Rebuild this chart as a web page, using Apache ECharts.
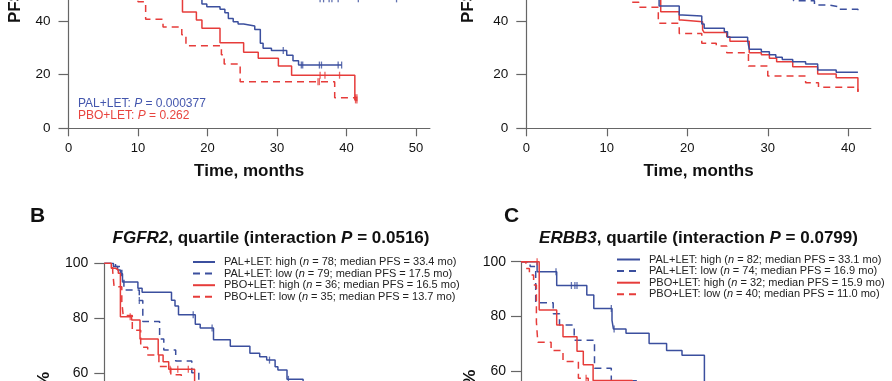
<!DOCTYPE html>
<html><head><meta charset="utf-8">
<script src="https://cdn.jsdelivr.net/npm/echarts@6/dist/echarts.min.js"></script>
<style>html,body{margin:0;padding:0;background:#fff}#c{width:892px;height:381px}</style>
</head><body><div id="c"></div>
<script>
// ---------- DATA ----------
// Top-left panel (time in months, PFS %)
const tlPalSolid = [[18.0,49.5],[19.2,46.4],[19.9,45.4],[21.8,44.4],[22.5,43.1],[23.0,41.0],[23.7,39.8],[24.4,38.9],[25.2,38.2],[26.8,36.9],[27.6,31.7],[28.0,29.9],[29.2,29.0],[31.4,27.3],[32.3,25.2],[33.1,23.6],[39.3,23.6]];
const tlPalSolidCens = [30.9,33.5,33.7,36.1,36.4,38.8,39.3];
const tlPalDashed = [[30.0,48.3],[47.3,48.3]];
const tlPalDashedCens = [36.2,36.7,37.5,37.9,38.8,41.7,47.2];
const tlPboSolid = [[15.5,49.5],[16.4,43.4],[18.4,40.4],[19.2,37.3],[21.8,31.9],[25.2,28.4],[27.3,26.1],[30.2,23.2],[32.1,19.8],[41.2,10.6],[41.5,10.6]];
const tlPboSolidCens = [36.2,36.9,39.0,41.3,41.5];
const tlPboDashed = [[9.0,49.5],[10.0,47.2],[11.1,40.7],[13.6,37.8],[16.3,34.9],[16.9,30.8],[22.0,27.4],[22.4,24.0],[24.7,17.4],[38.3,11.4],[41.5,11.4]];
const tlPboDashedCens = [35.9,36.1,41.3,41.5];
const tlPText = ['PAL+LET: ', ' = 0.000377', 'PBO+LET: ', ' = 0.262'];

// Top-right panel
const trPalSolid = [[15.5,49.5],[16.5,45.6],[19.0,42.3],[19.4,41.9],[21.8,38.9],[22.1,37.3],[24.6,36.0],[25.0,34.0],[27.5,32.7],[27.7,29.5],[29.2,28.6],[30.2,27.4],[31.0,26.5],[31.8,25.7],[33.1,24.8],[34.7,24.0],[36.2,21.8],[38.5,20.9],[41.2,20.9]];
const trPalDashed = [[30.0,49.5],[33.2,47.6],[35.8,46.0],[37.7,45.3],[38.9,44.4],[41.2,42.3]];
const trPboSolid = [[15.5,49.5],[16.7,43.5],[19.0,40.4],[19.3,39.8],[21.9,36.7],[22.1,35.7],[24.9,34.2],[25.3,32.5],[27.7,28.2],[29.2,27.4],[30.2,26.1],[31.1,24.8],[33.1,23.0],[36.2,20.3],[38.5,18.9],[41.2,13.7]];
const trPboDashed = [[12.5,49.5],[13.0,47.0],[14.0,45.2],[16.4,39.2],[19.0,35.4],[21.8,31.7],[23.6,30.7],[24.9,28.2],[27.6,23.2],[30.0,19.5],[34.7,17.0],[36.3,15.3],[41.2,13.5]];

// Panel B: FGFR2
const bGroups = ['PAL+LET: high','PAL+LET: low','PBO+LET: high','PBO+LET: low'];
const bN = [78,79,36,35];
const bMedian = ['33.4','17.5','16.5','13.7'];
const bPalHigh = [[0,100],[1.3,98.8],[1.9,97.6],[2.3,96.2],[2.6,93.2],[4.8,90.9],[5.4,89.5],[9.6,86.6],[10.1,84.5],[10.6,81.3],[13.0,77.8],[13.7,76.5],[15.6,72.2],[18.0,69.8],[20.8,67.3],[22.2,66.0],[23.2,64.8],[24.4,62.4],[24.8,61.2],[26.1,57.8],[28.4,55.0],[33.4,49.0]];
const bPalHighCens = [12.7,15.4,23.6,26.3];
const bPalLow = [[0,100],[1.6,98.8],[2.5,95.5],[2.8,90.3],[5.0,86.5],[5.5,78.8],[7.9,72.5],[8.5,68.5],[10.2,64.5],[12.5,60.2],[13.5,55.0],[17.5,49.0]];
const bPalLowCens = [5.0];
const bPboHigh = [[0,100],[1.0,98.2],[1.6,97.6],[2.0,96.4],[2.3,80.6],[3.9,79.4],[5.1,72.5],[7.7,66.7],[8.4,64.2],[9.2,61.5],[12.9,55.0],[16.5,49.0]];
const bPboHighCens = [3.7,9.4,10.5,12.0];
const bPboLow = [[0,100],[1.2,97.1],[1.4,91.5],[2.5,86.0],[2.7,81.0],[4.0,75.7],[5.2,69.5],[6.2,66.7],[7.8,62.5],[9.5,59.5],[11.0,56.0],[13.7,48.6]];

// Panel C: ERBB3
const cN = [82,74,32,40];
const cMedian = ['33.1','16.9','15.9','11.0'];
const cPalHigh = [[0,100],[2.3,96.3],[5.1,91.3],[9.4,87.8],[10.4,82.9],[13.0,78.5],[13.2,75.4],[15.0,73.8],[18.3,70.1],[20.8,67.5],[23.0,65.8],[26.2,55.0],[33.1,49.0]];
const cPalHighCens = [5.0,7.2,7.7,8.0,12.9,13.3];
const cPalLow = [[0,100],[1.3,98.2],[2.1,85.0],[4.6,81.0],[5.5,76.8],[7.6,71.3],[10.5,61.0],[12.9,56.4],[16.9,49.0]];
const cPboHigh = [[0,100],[2.6,82.3],[5.1,76.8],[6.0,72.5],[8.0,67.2],[8.9,62.3],[10.3,56.5],[15.9,49.0]];
const cPboHighCens = [2.3];
const cPboLow = [[0,100],[0.7,97.5],[1.2,95.1],[1.8,91.5],[2.2,78.0],[2.4,70.5],[4.3,67.5],[6.0,63.5],[8.2,57.4],[9.6,54.0],[11.0,49.0]];
const cPboLowCens = [9.3];

const xTicksTL = [0,10,20,30,40,50];
const xTicksTR = [0,10,20,30,40];
const xTicksB = [0,10,20,30,40,50];

// ---------- STYLE ----------
const FONT = 'Liberation Sans, Arial, Helvetica, sans-serif';
const BLUE = '#3b4f9e';
const RED = '#e63c3a';
const AX = '#666';

function survAt(curve, t) {
  let v = curve[0][1];
  for (const p of curve) { if (p[0] <= t) v = p[1]; }
  return v;
}
function curve(name, data, color, dashed, idx) {
  return {name, type:'line', xAxisIndex:idx, yAxisIndex:idx, data, step:'end',
    symbol:'none', showSymbol:false, animation:false, silent:true, z:2,
    lineStyle:{color, width:1.5, type: dashed ? [7,5] : 'solid'}, itemStyle:{color}};
}
function cens(name, curveData, times, color, idx) {
  return {name, type:'scatter', xAxisIndex:idx, yAxisIndex:idx,
    data: times.map(t => [t, survAt(curveData, t)]),
    symbol:'rect', symbolSize:[1.3,7], itemStyle:{color}, animation:false, silent:true, z:3};
}
function xAxis(idx, max, ticks, show) {
  return {type:'value', gridIndex:idx, min:0, max, show,
    name:'Time, months', nameLocation:'middle', nameGap:35,
    nameTextStyle:{fontFamily:FONT, fontWeight:'bold', fontSize:17, color:'#111'},
    axisLine:{show:true, onZero:false, lineStyle:{color:AX, width:1.2}},
    axisTick:{show:true, length:8, customValues:ticks, lineStyle:{color:AX, width:1.2}},
    axisLabel:{show:true, customValues:ticks, margin:14, fontFamily:FONT, fontSize:13, color:'#111'},
    splitLine:{show:false}};
}
function yAxis(idx, gap, fs, margin) {
  return {type:'value', gridIndex:idx, min:0, max:100, interval:20,
    name:'PFS, %', nameLocation:'middle', nameGap:gap,
    nameTextStyle:{fontFamily:FONT, fontWeight:'bold', fontSize:17, color:'#111'},
    axisLine:{show:true, onZero:false, lineStyle:{color:AX, width:1.2}},
    axisTick:{show:true, length:10, lineStyle:{color:AX, width:1.2}},
    axisLabel:{margin, fontFamily:FONT, fontSize:fs, color:'#111'},
    splitLine:{show:false}};
}
const bNames = bGroups.map((g,i) => `${g} (n = ${bN[i]}; median PFS = ${bMedian[i]} mo)`);
const cNames = bGroups.map((g,i) => `${g} (n = ${cN[i]}; median PFS = ${cMedian[i]} mo)`);

function legend(left, top, names, w) {
  return {show:true, orient:'vertical', left, top, padding:0, itemWidth:w, itemHeight:9, itemGap:0.6,
    selectedMode:false, data:names, itemStyle:{opacity:0, borderWidth:0},
    formatter: n => n.replace('(n =', '({it|n} ='),
    textStyle:{fontFamily:FONT, fontSize:11, color:'#222', lineHeight:9, padding:[0,0,0,4],
      rich:{it:{fontFamily:FONT, fontSize:11, fontStyle:'italic', color:'#222', lineHeight:9}}}};
}

const series = [
  curve('tl PBO dashed', tlPboDashed, RED, true, 0),
  curve('tl PBO solid', tlPboSolid, RED, false, 0),
  curve('tl PAL dashed', tlPalDashed, BLUE, true, 0),
  curve('tl PAL solid', tlPalSolid, BLUE, false, 0),
  cens('tl c1', tlPboDashed, tlPboDashedCens, RED, 0),
  cens('tl c2', tlPboSolid, tlPboSolidCens, RED, 0),
  cens('tl c3', tlPalDashed, tlPalDashedCens, BLUE, 0),
  cens('tl c4', tlPalSolid, tlPalSolidCens, BLUE, 0),

  curve('tr PBO dashed', trPboDashed, RED, true, 1),
  curve('tr PBO solid', trPboSolid, RED, false, 1),
  curve('tr PAL dashed', trPalDashed, BLUE, true, 1),
  curve('tr PAL solid', trPalSolid, BLUE, false, 1),

  curve(bNames[0], bPalHigh, BLUE, false, 2),
  curve(bNames[1], bPalLow, BLUE, true, 2),
  curve(bNames[2], bPboHigh, RED, false, 2),
  curve(bNames[3], bPboLow, RED, true, 2),
  cens('b c1', bPalHigh, bPalHighCens, BLUE, 2),
  cens('b c2', bPalLow, bPalLowCens, BLUE, 2),
  cens('b c3', bPboHigh, bPboHighCens, RED, 2),

  curve(cNames[0], cPalHigh, BLUE, false, 3),
  curve(cNames[1], cPalLow, BLUE, true, 3),
  curve(cNames[2], cPboHigh, RED, false, 3),
  curve(cNames[3], cPboLow, RED, true, 3),
  cens('c c1', cPalHigh, cPalHighCens, BLUE, 3),
  cens('c c3', cPboHigh, cPboHighCens, RED, 3),
  cens('c c4', cPboLow, cPboLowCens, RED, 3)
];

function txt(x, y, text, size, weight, color, align) {
  return {type:'text', x, y, silent:true, style:{text, fill:color, fontFamily:FONT, fontSize:size, fontWeight:weight,
    align, verticalAlign:'middle',
    rich:{i:{fontFamily:FONT, fontSize:size, fontWeight:weight, fontStyle:'italic', fill:color, color}}}};
}

const G = {outerBoundsMode:'none', containLabel:false};
const option = {
  backgroundColor:'#fff',
  animation:false,
  grid:[
    Object.assign({left:68.5, top:-139.7, width:361.4, height:268}, G),
    Object.assign({left:526.3, top:-139.7, width:344.5, height:268}, G),
    Object.assign({left:104.3, top:263.3, width:364, height:275}, G),
    Object.assign({left:521, top:261.7, width:364, height:273.3}, G)
  ],
  xAxis:[xAxis(0,52,xTicksTL,true), xAxis(1,42.8,xTicksTR,true), xAxis(2,52,xTicksB,true), xAxis(3,52,xTicksB,true)],
  yAxis:[yAxis(0,43.5,13.5,18), yAxis(1,49,13.5,18), yAxis(2,51,14,16), yAxis(3,38,14,15)],
  legend:[legend(192,256.5,bNames,22), legend(616,254,cNames,23)],
  series,
  graphic:[
    txt(78,104, tlPText[0] + '{i|P}' + tlPText[1], 12, 'normal', '#4356ad', 'left'),
    txt(78,116, tlPText[2] + '{i|P}' + tlPText[3], 12, 'normal', '#e8453f', 'left'),
    txt(30,216,'B',21,'bold','#111','left'),
    txt(504,216,'C',21,'bold','#111','left'),
    txt(271,238,'{i|FGFR2}, quartile (interaction {i|P} = 0.0516)',17,'bold','#111','center'),
    txt(698.5,238,'{i|ERBB3}, quartile (interaction {i|P} = 0.0799)',17,'bold','#111','center')
  ]
};
const chart = echarts.init(document.getElementById('c'), null, {renderer:'canvas'});
chart.setOption(option);
</script>
</body></html>
